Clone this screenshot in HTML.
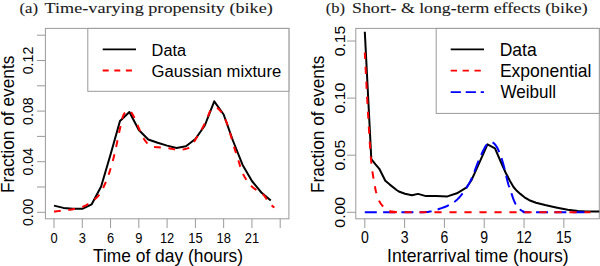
<!DOCTYPE html>
<html><head><meta charset="utf-8"><style>
html,body{margin:0;padding:0;background:#fff;}
svg{display:block;}
text{font-family:"Liberation Sans",sans-serif;fill:#000;}
.tk{font-size:12.9px;}
.tk2{font-size:14.1px;}
.lab{font-size:17.7px;}
.lg{font-size:17.3px;}
.lg2{font-size:17.8px;}
.ti{font-family:"Liberation Serif",serif;font-size:15.6px;fill:#1a1a1a;stroke:#1a1a1a;stroke-width:0.1px;}
</style></head><body>
<svg width="600" height="266" viewBox="0 0 600 266">
<rect width="600" height="266" fill="#fff"/>
<rect x="45.4" y="28.4" width="243.49999999999997" height="190.4" fill="none" stroke="#9a9a9a" stroke-width="1"/>
<line x1="37" y1="212.30" x2="45.4" y2="212.30" stroke="#9a9a9a" stroke-width="1"/>
<line x1="37" y1="187.00" x2="45.4" y2="187.00" stroke="#9a9a9a" stroke-width="1"/>
<line x1="37" y1="161.70" x2="45.4" y2="161.70" stroke="#9a9a9a" stroke-width="1"/>
<line x1="37" y1="136.40" x2="45.4" y2="136.40" stroke="#9a9a9a" stroke-width="1"/>
<line x1="37" y1="111.10" x2="45.4" y2="111.10" stroke="#9a9a9a" stroke-width="1"/>
<line x1="37" y1="85.80" x2="45.4" y2="85.80" stroke="#9a9a9a" stroke-width="1"/>
<line x1="37" y1="60.50" x2="45.4" y2="60.50" stroke="#9a9a9a" stroke-width="1"/>
<line x1="37" y1="35.20" x2="45.4" y2="35.20" stroke="#9a9a9a" stroke-width="1"/>
<text class="tk" transform="translate(33.1,212.30) rotate(-90) scale(1.1,1.1)" text-anchor="middle">0.00</text>
<text class="tk" transform="translate(33.1,161.70) rotate(-90) scale(1.1,1.1)" text-anchor="middle">0.04</text>
<text class="tk" transform="translate(33.1,111.10) rotate(-90) scale(1.1,1.1)" text-anchor="middle">0.08</text>
<text class="tk" transform="translate(33.1,60.50) rotate(-90) scale(1.1,1.1)" text-anchor="middle">0.12</text>
<line x1="54.00" y1="218.8" x2="54.00" y2="228" stroke="#9a9a9a" stroke-width="1"/>
<text class="tk" transform="translate(54.00,242.6) scale(1,1.17)" text-anchor="middle">0</text>
<line x1="82.28" y1="218.8" x2="82.28" y2="228" stroke="#9a9a9a" stroke-width="1"/>
<text class="tk" transform="translate(82.28,242.6) scale(1,1.17)" text-anchor="middle">3</text>
<line x1="110.55" y1="218.8" x2="110.55" y2="228" stroke="#9a9a9a" stroke-width="1"/>
<text class="tk" transform="translate(110.55,242.6) scale(1,1.17)" text-anchor="middle">6</text>
<line x1="138.82" y1="218.8" x2="138.82" y2="228" stroke="#9a9a9a" stroke-width="1"/>
<text class="tk" transform="translate(138.82,242.6) scale(1,1.17)" text-anchor="middle">9</text>
<line x1="167.10" y1="218.8" x2="167.10" y2="228" stroke="#9a9a9a" stroke-width="1"/>
<text class="tk" transform="translate(167.10,242.6) scale(1,1.17)" text-anchor="middle">12</text>
<line x1="195.38" y1="218.8" x2="195.38" y2="228" stroke="#9a9a9a" stroke-width="1"/>
<text class="tk" transform="translate(195.38,242.6) scale(1,1.17)" text-anchor="middle">15</text>
<line x1="223.65" y1="218.8" x2="223.65" y2="228" stroke="#9a9a9a" stroke-width="1"/>
<text class="tk" transform="translate(223.65,242.6) scale(1,1.17)" text-anchor="middle">18</text>
<line x1="251.93" y1="218.8" x2="251.93" y2="228" stroke="#9a9a9a" stroke-width="1"/>
<text class="tk" transform="translate(251.93,242.6) scale(1,1.17)" text-anchor="middle">21</text>
<line x1="280.20" y1="218.8" x2="280.20" y2="228" stroke="#9a9a9a" stroke-width="1"/>
<text class="lab" x="168.0" y="261.7" text-anchor="middle" textLength="150" lengthAdjust="spacingAndGlyphs">Time of day (hours)</text>
<text class="lab" transform="translate(13.9,124.3) rotate(-90)" text-anchor="middle" textLength="137.5" lengthAdjust="spacingAndGlyphs">Fraction of events</text>
<polyline points="54.00,205.60 63.42,207.90 72.85,208.80 82.28,208.80 91.70,204.30 101.12,186.50 110.55,154.50 119.98,121.00 129.40,112.00 138.82,130.00 148.25,139.50 157.68,142.80 167.10,145.60 176.53,148.00 185.95,146.30 195.38,139.00 204.80,125.50 214.23,101.30 223.65,114.50 233.08,141.00 242.50,164.70 251.93,181.00 261.35,192.50 270.77,200.60" fill="none" stroke="#000" stroke-width="2" stroke-linejoin="round"/>
<path d="M54.00,211.60 L54.72,211.52 L55.69,211.40 L56.83,211.27 L58.11,211.12 L59.45,210.97 L60.75,210.82 M68.31,209.96 L69.34,209.83 L70.53,209.68 L71.72,209.50 L72.90,209.30 L74.08,209.09 L75.02,208.92 M82.36,206.98 L83.48,206.49 L84.68,205.92 L85.89,205.29 L87.09,204.62 L88.28,203.92 L88.39,203.85 M94.56,199.43 L94.86,199.19 L95.88,198.34 L96.86,197.42 L97.83,196.42 L98.78,195.32 L99.32,194.60 M103.12,188.03 L103.23,187.81 L104.05,186.04 L104.84,184.28 L105.59,182.55 L105.90,181.83 M108.64,174.74 L109.08,173.42 L109.57,171.87 L110.07,170.24 L110.60,168.50 L110.67,168.25 M112.76,160.94 L113.30,158.88 L113.86,156.71 L114.42,154.43 L114.44,154.35 M116.12,146.94 L116.25,146.37 L116.91,143.24 L117.52,140.29 M119.06,132.85 L119.45,130.98 L120.00,128.50 L120.49,126.32 L120.51,126.20 M122.21,118.80 L122.45,117.93 L122.86,116.67 L123.30,115.50 L123.79,114.46 L124.31,113.57 L124.86,112.81 L125.00,112.66 M131.05,112.16 L131.42,112.64 L131.90,113.35 L132.41,114.15 L132.92,115.02 L133.44,115.96 L133.97,116.96 L134.50,118.00 L134.50,118.00 M137.50,124.99 L137.83,125.78 L138.41,127.16 L139.00,128.50 L139.59,129.84 L140.17,131.20 L140.18,131.23 M143.44,138.10 L144.00,139.00 L144.75,140.09 L145.52,141.15 L146.31,142.17 L147.14,143.12 L147.52,143.52 M154.06,147.02 L155.20,147.12 L156.39,147.18 L157.59,147.22 L158.80,147.29 L160.00,147.40 L160.84,147.50 M168.40,148.31 L168.82,148.35 L170.00,148.50 L171.11,148.67 L172.17,148.88 L173.19,149.11 L174.19,149.33 L175.09,149.51 M182.65,149.39 L183.73,149.22 L185.09,148.96 L186.37,148.66 L187.52,148.34 L188.50,148.00 L189.20,147.68 M194.00,141.88 L194.39,141.27 L194.89,140.45 L195.39,139.63 L195.89,138.81 L196.40,138.00 L196.91,137.20 L197.43,136.40 L197.61,136.12 M201.56,129.63 L201.88,129.05 L202.32,128.23 L202.75,127.42 L203.17,126.60 L203.59,125.80 L204.00,125.00 L204.40,124.22 L204.71,123.60 M207.83,116.68 L208.12,115.88 L208.50,114.85 L208.88,113.84 L209.25,112.89 L209.62,112.03 L210.00,111.30 L210.37,110.70 L210.54,110.46 M216.94,107.64 L217.04,107.70 L217.64,108.14 L218.26,108.68 L218.89,109.30 L219.52,109.96 L220.13,110.63 L220.70,111.29 L221.20,111.90 L221.64,112.46 L221.66,112.50 M225.24,119.19 L225.49,119.75 L225.87,120.63 L226.25,121.54 L226.62,122.50 L227.00,123.50 L227.37,124.53 L227.70,125.52 M229.94,132.79 L230.00,133.00 L230.47,134.58 L230.98,136.30 L231.51,138.12 L231.85,139.31 M234.00,146.60 L234.30,147.60 L234.85,149.41 L235.42,151.22 L235.99,153.04 L236.00,153.10 M238.32,160.34 L238.80,161.80 L239.31,163.42 L239.77,164.99 L240.20,166.52 L240.30,166.84 M242.97,173.94 L243.00,174.00 L243.85,175.56 L244.78,177.17 L245.78,178.80 L246.44,179.79 M251.11,185.77 L251.60,186.30 L252.92,187.49 L254.36,188.57 L255.87,189.55 L256.47,189.91 M262.79,194.11 L262.90,194.20 L263.92,195.28 L264.81,196.41 L265.60,197.58 L266.32,198.75 L266.80,199.57 M271.59,205.39 L272.08,205.79 L272.80,206.36 L273.45,206.85 L273.99,207.26 L274.40,207.60" fill="none" stroke="#ff0000" stroke-width="2" stroke-linejoin="round"/>
<rect x="87.8" y="28.4" width="201.09999999999997" height="62.9" fill="#fff" stroke="#9a9a9a" stroke-width="1"/>
<line x1="102.7" y1="49.3" x2="136" y2="49.3" stroke="#000" stroke-width="1.7"/>
<line x1="102.7" y1="70.5" x2="136" y2="70.5" stroke="#ff0000" stroke-width="1.8" stroke-dasharray="6 5.6"/>
<text class="lg" x="151.6" y="55.8" textLength="34.5" lengthAdjust="spacingAndGlyphs">Data</text>
<text class="lg" x="151.6" y="76.9" textLength="129.6" lengthAdjust="spacingAndGlyphs">Gaussian mixture</text>
<rect x="355.8" y="28.4" width="243.49999999999994" height="190.4" fill="none" stroke="#9a9a9a" stroke-width="1"/>
<line x1="347" y1="212.30" x2="355.8" y2="212.30" stroke="#9a9a9a" stroke-width="1"/>
<text class="tk2" transform="translate(344.7,212.30) rotate(-90) scale(1.12,1.0)" text-anchor="middle">0.00</text>
<line x1="347" y1="155.20" x2="355.8" y2="155.20" stroke="#9a9a9a" stroke-width="1"/>
<text class="tk2" transform="translate(344.7,155.20) rotate(-90) scale(1.12,1.0)" text-anchor="middle">0.05</text>
<line x1="347" y1="98.10" x2="355.8" y2="98.10" stroke="#9a9a9a" stroke-width="1"/>
<text class="tk2" transform="translate(344.7,98.10) rotate(-90) scale(1.12,1.0)" text-anchor="middle">0.10</text>
<line x1="347" y1="41.00" x2="355.8" y2="41.00" stroke="#9a9a9a" stroke-width="1"/>
<text class="tk2" transform="translate(344.7,41.00) rotate(-90) scale(1.12,1.0)" text-anchor="middle">0.15</text>
<line x1="364.80" y1="218.8" x2="364.80" y2="228" stroke="#9a9a9a" stroke-width="1"/>
<text class="tk2" transform="translate(364.80,242.6) scale(1,1.12)" text-anchor="middle">0</text>
<line x1="404.61" y1="218.8" x2="404.61" y2="228" stroke="#9a9a9a" stroke-width="1"/>
<text class="tk2" transform="translate(404.61,242.6) scale(1,1.12)" text-anchor="middle">3</text>
<line x1="444.42" y1="218.8" x2="444.42" y2="228" stroke="#9a9a9a" stroke-width="1"/>
<text class="tk2" transform="translate(444.42,242.6) scale(1,1.12)" text-anchor="middle">6</text>
<line x1="484.23" y1="218.8" x2="484.23" y2="228" stroke="#9a9a9a" stroke-width="1"/>
<text class="tk2" transform="translate(484.23,242.6) scale(1,1.12)" text-anchor="middle">9</text>
<line x1="524.04" y1="218.8" x2="524.04" y2="228" stroke="#9a9a9a" stroke-width="1"/>
<text class="tk2" transform="translate(524.04,242.6) scale(1,1.12)" text-anchor="middle">12</text>
<line x1="563.85" y1="218.8" x2="563.85" y2="228" stroke="#9a9a9a" stroke-width="1"/>
<text class="tk2" transform="translate(563.85,242.6) scale(1,1.12)" text-anchor="middle">15</text>
<text class="lab" x="477.9" y="261.7" text-anchor="middle" textLength="181.6" lengthAdjust="spacingAndGlyphs">Interarrival time (hours)</text>
<text class="lab" transform="translate(324.2,124.3) rotate(-90)" text-anchor="middle" textLength="137.5" lengthAdjust="spacingAndGlyphs">Fraction of events</text>
<polyline points="364.80,31.80 371.30,159.00 375.50,164.30 379.30,168.80 382.30,174.80 385.30,180.80 389.80,184.60 396.60,190.00 399.50,191.80 405.00,193.80 411.90,195.30 418.00,193.90 426.00,196.10 436.10,196.10 447.40,196.40 456.90,193.30 466.30,187.70 471.30,180.50 475.70,170.80 487.50,144.30 495.00,148.30 500.00,160.00 505.80,173.00 510.00,181.00 513.50,187.00 516.80,190.80 520.30,193.90 524.50,197.30 529.30,200.20 536.00,202.80 545.00,205.00 556.00,207.40 567.70,209.70 578.00,210.90 585.80,211.50 599.30,211.60" fill="none" stroke="#000" stroke-width="2" stroke-linejoin="round"/>
<path d="M364.80,212.30 L369.37,212.30 L375.78,212.30 L376.80,212.30 M383.10,212.30 L383.44,212.30 L391.78,212.29 L395.10,212.29 M401.40,212.28 L408.08,212.27 L413.40,212.25 M419.70,212.20 L420.00,212.20 L423.42,212.15 L425.69,212.11 L427.08,212.07 L427.85,212.01 L428.27,211.94 L428.59,211.83 L429.08,211.69 L430.00,211.50 L431.22,211.27 L431.60,211.18 M437.66,209.45 L438.39,209.21 L439.60,208.80 L440.83,208.38 L442.09,207.93 L443.37,207.47 L444.64,206.99 L445.90,206.49 L447.12,205.97 L448.29,205.44 L448.86,205.17 M454.28,201.99 L454.93,201.50 L455.80,200.79 L456.70,200.00 L457.61,199.14 L458.52,198.21 L459.44,197.24 L460.35,196.21 L461.26,195.12 L462.18,193.97 L462.61,193.40 M466.22,188.24 L466.78,187.37 L467.71,185.87 L468.64,184.32 L469.55,182.71 L470.44,181.04 L471.30,179.30 L472.01,177.74 M474.33,171.89 L474.57,171.25 L475.35,169.12 L476.11,167.04 L476.86,165.05 L477.60,163.20 L478.33,161.45 L478.65,160.69 M481.15,154.91 L481.77,153.56 L482.40,152.23 L483.00,151.00 L483.56,149.88 L484.09,148.85 L484.58,147.92 L485.06,147.07 L485.52,146.31 L486.00,145.61 L486.49,144.98 L486.95,144.45 M492.56,142.44 L492.89,142.59 L493.32,142.87 L493.75,143.21 L494.16,143.59 L494.58,144.03 L495.00,144.50 L495.41,144.98 L495.81,145.47 L496.19,146.00 L496.58,146.58 L496.97,147.25 L497.38,148.02 L497.82,148.93 L498.30,150.00 L498.82,151.23 L499.20,152.15 M501.41,158.05 L501.79,159.15 L502.40,161.04 L503.00,163.00 L503.60,165.17 L504.23,167.61 L504.71,169.58 M506.16,175.71 L506.69,177.95 L507.23,180.16 L507.70,182.00 L508.09,183.41 L508.39,184.46 L508.64,185.25 L508.86,185.89 L509.08,186.48 L509.33,187.12 L509.38,187.26 M511.39,193.23 L511.53,193.65 L512.11,195.43 L512.72,197.21 L513.32,198.91 L513.92,200.46 L514.50,201.80 L515.06,202.94 L515.62,203.95 L515.87,204.33 M519.86,209.18 L520.08,209.39 L520.60,209.85 L521.12,210.26 L521.67,210.62 L522.23,210.95 L522.84,211.24 L523.50,211.50 L523.85,211.72 L523.72,211.89 L523.42,212.01 L523.26,212.10 L523.53,212.16 L524.54,212.21 L526.59,212.25 L529.76,212.30 M536.06,212.34 L542.73,212.36 L548.06,212.36 M554.36,212.36 L560.61,212.35 L566.36,212.34 M572.66,212.33 L578.28,212.32 L584.66,212.31" fill="none" stroke="#0000ff" stroke-width="2" stroke-linejoin="round"/>
<path d="M364.80,52.50 L364.97,55.83 L365.13,58.89 M365.53,66.68 L365.78,71.56 L365.89,73.87 M366.30,81.66 L366.41,83.91 L366.67,88.85 M367.09,96.64 L367.26,99.79 L367.48,103.83 M367.92,111.62 L368.02,113.48 L368.27,117.81 L368.33,118.81 M368.79,126.59 L369.00,130.00 L369.23,133.78 M369.72,141.56 L369.93,144.67 L370.15,148.00 L370.20,148.75 M370.78,156.53 L370.80,156.80 L371.01,159.22 L371.20,161.35 L371.39,163.26 L371.44,163.70 M372.40,171.44 L372.64,173.10 L372.90,174.78 L373.16,176.43 L373.44,178.06 L373.52,178.55 M374.90,186.23 L374.95,186.50 L375.15,187.64 L375.35,188.73 L375.56,189.78 L375.78,190.82 L376.02,191.85 L376.30,192.90 L376.40,193.26 M379.01,200.60 L379.20,201.00 L379.69,201.88 L380.21,202.73 L380.77,203.55 L381.35,204.34 L381.94,205.10 L382.54,205.81 L383.13,206.48 M389.39,210.89 L389.91,211.04 L390.87,211.25 L391.88,211.44 L392.91,211.61 L393.97,211.75 L395.04,211.88 L396.10,212.00 L395.96,212.10 L395.74,212.11 M389.44,212.27 L390.34,212.27 L395.43,212.29 L396.64,212.29 M404.44,212.30 L405.00,212.30 L411.64,212.31 M419.44,212.31 L421.00,212.31 L426.64,212.32 M434.44,212.32 L441.64,212.32 M449.44,212.32 L456.64,212.32 M464.44,212.32 L469.75,212.32 L471.64,212.32 M479.44,212.32 L486.64,212.32 M494.44,212.32 L498.26,212.32 L501.64,212.32 M509.44,212.32 L516.64,212.32 M524.44,212.31 L526.70,212.31 L531.64,212.31 M539.44,212.31 L546.64,212.31 M554.44,212.31 L561.64,212.31 M569.44,212.30 L574.89,212.30 L576.64,212.30 M584.44,212.30 L590.40,212.30" fill="none" stroke="#ff0000" stroke-width="2" stroke-linejoin="round"/>
<rect x="436.2" y="28.4" width="163.09999999999997" height="85.0" fill="#fff" stroke="#9a9a9a" stroke-width="1"/>
<line x1="450.7" y1="49.3" x2="484" y2="49.3" stroke="#000" stroke-width="1.7"/>
<line x1="450.7" y1="70.6" x2="484" y2="70.6" stroke="#ff0000" stroke-width="1.8" stroke-dasharray="6.3 5.6"/>
<line x1="450.7" y1="92.1" x2="484" y2="92.1" stroke="#0000ff" stroke-width="1.8" stroke-dasharray="10.2 4.8"/>
<text class="lg2" x="499.7" y="55.8" textLength="37" lengthAdjust="spacingAndGlyphs">Data</text>
<text class="lg2" x="499.9" y="77.2" textLength="91.6" lengthAdjust="spacingAndGlyphs">Exponential</text>
<text class="lg2" x="500.5" y="98.3" textLength="55.6" lengthAdjust="spacingAndGlyphs">Weibull</text>
<text class="ti" x="19.4" y="12.9" textLength="18.6" lengthAdjust="spacingAndGlyphs">(a)</text>
<text class="ti" x="44.6" y="12.9" textLength="228.2" lengthAdjust="spacingAndGlyphs">Time-varying propensity (bike)</text>
<text class="ti" x="325.8" y="12.9" textLength="19.3" lengthAdjust="spacingAndGlyphs">(b)</text>
<text class="ti" x="352.0" y="12.9" textLength="235.6" lengthAdjust="spacingAndGlyphs">Short- &amp; long-term effects (bike)</text>
</svg>
</body></html>
